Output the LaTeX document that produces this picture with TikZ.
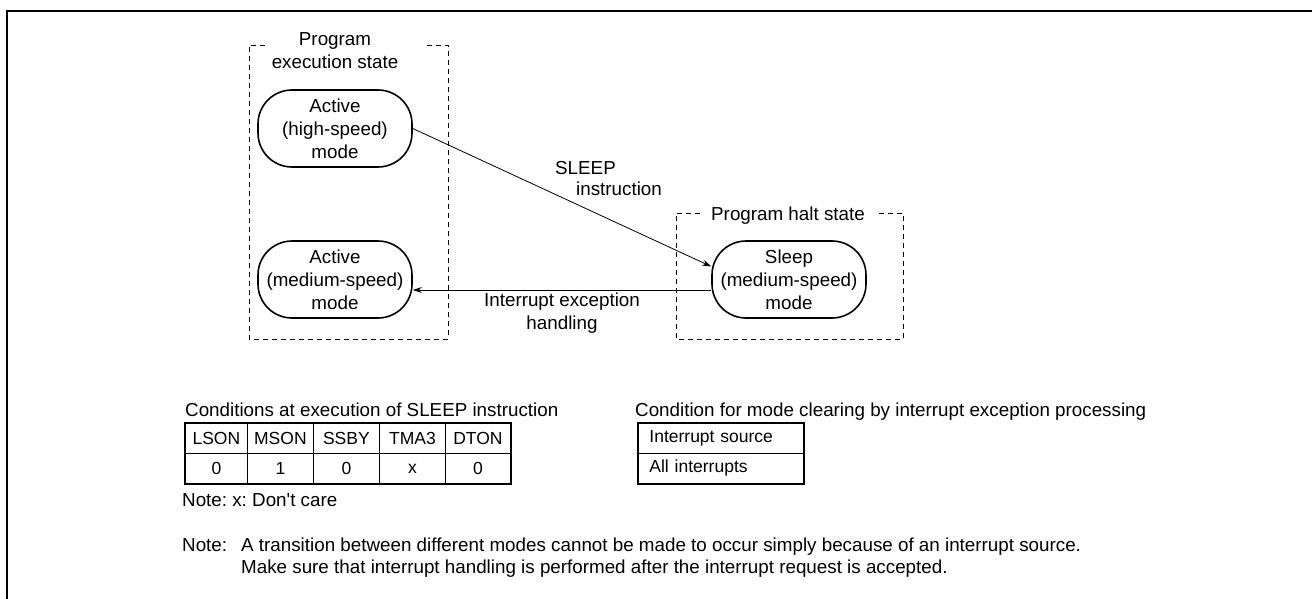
\documentclass[tikz,border=0pt]{standalone}
\usepackage{fontspec}
\setmainfont{Liberation Sans}[Ligatures=TeXOff]
\usetikzlibrary{arrows.meta}
\frenchspacing
\begin{document}
\begin{tikzpicture}[x=1pt,y=-1pt,
  every node/.style={font=\fontsize{18.8}{23}\selectfont, inner sep=0pt},
  modebox/.style={draw, line width=1.6pt, rounded corners=34pt, minimum width=154pt, minimum height=77pt, align=center},
  statebox/.style={draw, line width=0.9pt, dash pattern=on 5pt off 4pt},
  conn/.style={line width=0.8pt, -{Stealth[length=9pt,width=6pt]}},
  cell/.style={draw, line width=0.8pt, minimum height=30pt, anchor=north west, font=\fontsize{17.5}{21}\selectfont},
  lbl/.style={anchor=base west}
]
\useasboundingbox (0,0) rectangle (1312,599);
\fill[white] (0,0) rectangle (1312,599);
% outer frame
\draw[line width=2pt] (7,599) -- (7,11) -- (1312,11);

% state boxes
\draw[statebox] (265,45) -- (249,45) -- (249,339) -- (448,339) -- (448,45) -- (425,45);
\node[align=center] (t1) at (335,51) {Program\\execution state};
\draw[statebox] (700,213) -- (676,213) -- (676,339) -- (903,339) -- (903,213) -- (877,213);
\node (t2) at (788,216) {Program halt state};

% modes
\node[modebox] (ah) at (335,128.5) {Active\\(high-speed)\\mode};
\node[modebox] (am) at (335,279.5) {Active\\(medium-speed)\\mode};
\node[modebox] (sl) at (789,279.5) {Sleep\\(medium-speed)\\mode};

\draw[conn] (ah.east) -- ([yshift=13pt]sl.west);
\draw[conn] ([yshift=-10.5pt]sl.west) -- ([yshift=-10.5pt]am.east);

\node[lbl] (s1) at (555,174.5) {SLEEP};
\node[lbl] (s2) at (576,195) {instruction};
\node[align=center] (ie) at (562,313.5) {Interrupt exception\\handling};

% left table
\node[lbl] (lt) at (185,416) {Conditions at execution of SLEEP instruction};
\node[cell, minimum width=62pt] (h1) at (185,423) {LSON};
\node[cell, minimum width=66pt] (h2) at (247,423) {MSON};
\node[cell, minimum width=66pt] (h3) at (313,423) {SSBY};
\node[cell, minimum width=66pt] (h4) at (379,423) {TMA3};
\node[cell, minimum width=65pt] (h5) at (445,423) {DTON};
\node[cell, minimum width=62pt] (v1) at (185,453) {0};
\node[cell, minimum width=66pt] (v2) at (247,453) {1};
\node[cell, minimum width=66pt] (v3) at (313,453) {0};
\node[cell, minimum width=66pt] (v4) at (379,453) {x};
\node[cell, minimum width=65pt] (v5) at (445,453) {0};
\draw[line width=1.8pt] (h1.north west) rectangle (v5.south east);
\node[lbl] (n1) at (182,506) {Note: x: Don't care};

% right table
\node[lbl] (rt) at (635,416) {Condition for mode clearing by interrupt exception processing};
\node[cell, minimum width=165pt, text width=143pt, align=left] (r1) at (638,423) {Interrupt source};
\node[cell, minimum width=165pt, text width=143pt, align=left] (r2) at (638,453) {All interrupts};
\draw[line width=1.8pt] (r1.north west) rectangle (r2.south east);

% notes
\node[lbl] (n2) at (182,551) {Note:};
\node[lbl] (n3) at (241,551) {A transition between different modes cannot be made to occur simply because of an interrupt source.};
\node[lbl] (n4) at (241,573) {Make sure that interrupt handling is performed after the interrupt request is accepted.};
\end{tikzpicture}
\end{document}
